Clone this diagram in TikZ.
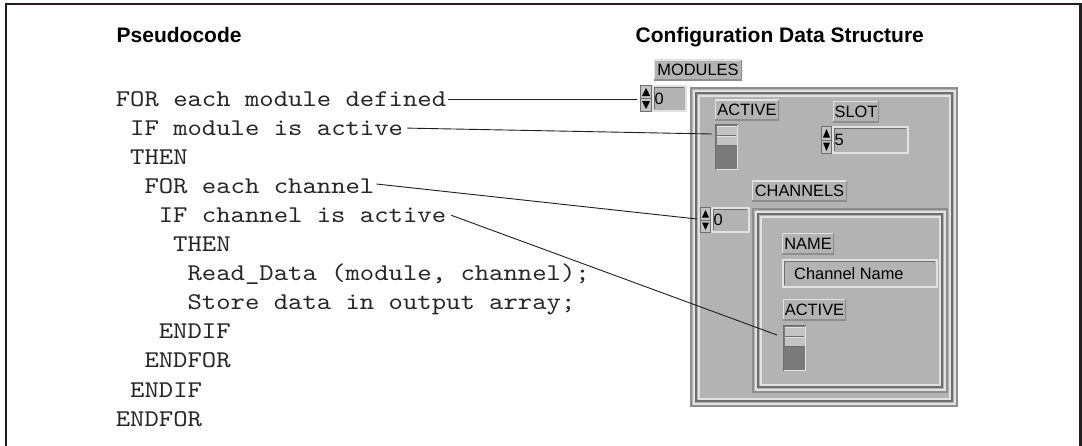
\documentclass[tikz,border=0pt]{standalone}
\usepackage{fontspec}
\setmainfont{Liberation Sans}
\newfontfamily\codefont{lmmono10-regular.otf}[FakeStretch=1.14]
\newfontfamily\lvfont{Liberation Sans}

\definecolor{panel}{HTML}{B3B3B3}
\definecolor{lvlite}{HTML}{E2E2E2}
\definecolor{lvdark}{HTML}{6E6E6E}
\definecolor{lvmid}{HTML}{8E8E8E}
\definecolor{swdark}{HTML}{7A7A7A}
\definecolor{swlite}{HTML}{C4C4C4}
\definecolor{framecol}{HTML}{231F20}
\definecolor{inkline}{HTML}{1E1E1E}

% nested 3-D border of a LabVIEW array or cluster
\newcommand\lvframe[4]{%
  \fill[panel] (#1,#2) rectangle (#3,#4);
  \draw[lvmid,line width=2pt] (#1+1,#2+1) rectangle (#3-1,#4-1);
  \draw[lvlite,line width=2pt] (#1+3.5,#2+3.5) rectangle (#3-3.5,#4-3.5);
  \draw[lvdark,line width=2pt] (#1+6,#2+6) rectangle (#3-6,#4-6);
  \draw[lvlite,line width=2pt] (#1+8.5,#2+8.5) rectangle (#3-8.5,#4-8.5);
}
% increment / decrement buttons of a numeric control
\newcommand\lvarrows[4]{%
  \fill[swlite] (#1,#2) rectangle (#3,#4);
  \draw[lvdark,line width=1pt] (#1+0.5,#2+0.5) rectangle (#3-0.5,#4-0.5);
  \draw[lvdark,line width=1pt] (#1,{(#2+#4)/2}) -- (#3,{(#2+#4)/2});
  \fill[black] ({#1+2},{(#2+#4)/2-2.5}) -- ({#3-2},{(#2+#4)/2-2.5}) -- ({(#1+#3)/2},{#2+3}) -- cycle;
  \fill[black] ({#1+2},{(#2+#4)/2+2.5}) -- ({#3-2},{(#2+#4)/2+2.5}) -- ({(#1+#3)/2},{#4-3}) -- cycle;
}
% recessed display field
\newcommand\lvfield[4]{%
  \fill[panel] (#1,#2) rectangle (#3,#4);
  \draw[lvlite,line width=2pt] (#1+1,#2+1) rectangle (#3-1,#4-1);
  \draw[lvdark,line width=1.2pt] (#1+2.6,#4-2.6) |- (#3-2.6,#2+2.6);
}
% vertical slide switch
\newcommand\lvswitch[4]{%
  \fill[swdark] (#1,#2) rectangle (#3,#4);
  \fill[swlite] (#1+1.5,#2+1.5) rectangle (#3-1.5,#2+21);
  \draw[lvlite,line width=1pt] (#1+2,#2+2.5) -- (#3-2,#2+2.5);
  \draw[lvlite,line width=1pt] (#1+2,#2+12) -- (#3-2,#2+12);
  \draw[lvdark,line width=1pt] (#1+2,#2+11) -- (#3-2,#2+11);
  \draw[lvdark,line width=1pt] (#1+2,#2+21) -- (#3-2,#2+21);
  \draw[lvdark,line width=1.4pt] (#1+0.7,#4) |- (#3,#2+0.7);
  \draw[lvlite,line width=1.4pt] (#1+0.7,#4-0.7) -| (#3-0.7,#2+0.7);
}

\tikzset{
  heading/.style={anchor=base west,inner sep=0pt,font=\bfseries\fontsize{21}{21}\selectfont,text=black},
  codeline/.style={anchor=west,inner sep=0pt,font=\codefont\fontsize{24}{24}\selectfont,
    text=black!85,text height=14.6pt,text depth=0pt},
  lvlabel/.style={inner sep=0pt,fill=panel,minimum height=21pt,
    font=\lvfont\fontsize{16.4}{16.4}\selectfont,text height=11.8pt,text depth=0pt,
    path picture={
      \draw[lvlite,line width=2.4pt] (path picture bounding box.south west) |- (path picture bounding box.north east);
      \draw[lvmid,line width=2.4pt] (path picture bounding box.south west) -| (path picture bounding box.north east);
    }},
  lvtext/.style={inner sep=0pt,font=\lvfont\fontsize{16.4}{16.4}\selectfont,text height=11.8pt,text depth=0pt},
  conn/.style={draw=inkline,line width=0.9pt},
}

\begin{document}
\begin{tikzpicture}[x=1pt,y=-1pt]
\useasboundingbox (0,0) rectangle (1082,445);
\fill[white] (0,0) rectangle (1082,445);

% surrounding frame (open at the bottom)
\draw[framecol,line width=2.2pt] (6.2,480) -- (6.2,4.3) -- (1080.5,4.3) -- (1080.5,480);

% headings
\node[heading] (hpseudo) at (116.5,42) {Pseudocode};
\node[heading] (hconfig) at (635.5,42) {Configuration Data Structure};

% pseudocode
\def\cstep{14.36}
\node[codeline] (code0)  at (115.6+0*\cstep, 99.0) {FOR each module defined};
\node[codeline] (code1)  at (115.6+1*\cstep,128.1) {IF module is active};
\node[codeline] (code2)  at (115.6+1*\cstep,157.1) {THEN};
\node[codeline] (code3)  at (115.6+2*\cstep,186.0) {FOR each channel};
\node[codeline] (code4)  at (115.6+3*\cstep,215.3) {IF channel is active};
\node[codeline] (code5)  at (115.6+4*\cstep,244.4) {THEN};
\node[codeline] (code6)  at (115.6+5*\cstep,273.4) {Read\_Data (module, channel);};
\node[codeline] (code7)  at (115.6+5*\cstep,302.5) {Store data in output array;};
\node[codeline] (code8)  at (115.6+3*\cstep,331.6) {ENDIF};
\node[codeline] (code9)  at (115.6+2*\cstep,360.6) {ENDFOR};
\node[codeline] (code10) at (115.6+1*\cstep,389.7) {ENDIF};
\node[codeline] (code11) at (115.6+0*\cstep,418.8) {ENDFOR};

% ---- configuration front panel ----
% MODULES array
\node[lvlabel,minimum width=88pt] (lblmodules) at (698,70) {MODULES};
\lvarrows{640}{85}{652}{112}
\lvfield{652}{85}{687}{112}
\node[lvtext,anchor=west] (idxmodules) at (654.5,98.5) {0};
\lvframe{690}{87}{958}{407}

% module cluster: ACTIVE switch and SLOT number
\node[lvlabel,minimum width=64pt] (lblactive) at (747,110) {ACTIVE};
\lvswitch{715}{124}{738}{170}
\node[lvlabel,minimum width=46pt] (lblslot) at (856,111.5) {SLOT};
\lvarrows{821}{126}{832}{154}
\lvfield{832}{126}{909}{154}
\node[lvtext,anchor=west] (valslot) at (834.5,140) {5};

% CHANNELS array
\node[lvlabel,minimum width=95pt] (lblchannels) at (799.5,191) {CHANNELS};
\lvarrows{700}{207}{711}{233}
\lvfield{711}{207}{750}{233}
\node[lvtext,anchor=west] (idxchannels) at (713.5,220) {0};
\lvframe{752}{208}{948}{393}

% channel cluster: NAME string and ACTIVE switch
\node[lvlabel,minimum width=52pt] (lblname) at (808,243.5) {NAME};
\lvfield{782}{259}{938}{288}
\node[lvtext,anchor=west] (valname) at (794,274) {Channel Name};
\node[lvlabel,minimum width=63pt] (lblchactive) at (814.5,309.5) {ACTIVE};
\lvswitch{783}{325}{806}{371}

% connector ends at the panel controls
\coordinate (tomodidx) at (637,99);
\coordinate (tomodact) at (712,134);
\coordinate (tochidx)  at (697,219);
\coordinate (tochact)  at (777,335);

\draw[conn] ([xshift=2pt]code0.east) -- (tomodidx);
\draw[conn] ([xshift=4pt]code1.east) -- (tomodact);
\draw[conn] ([xshift=2pt,yshift=2pt]code3.east) -- (tochidx);
\draw[conn] ([xshift=5pt]code4.east) -- (tochact);
\end{tikzpicture}
\end{document}
